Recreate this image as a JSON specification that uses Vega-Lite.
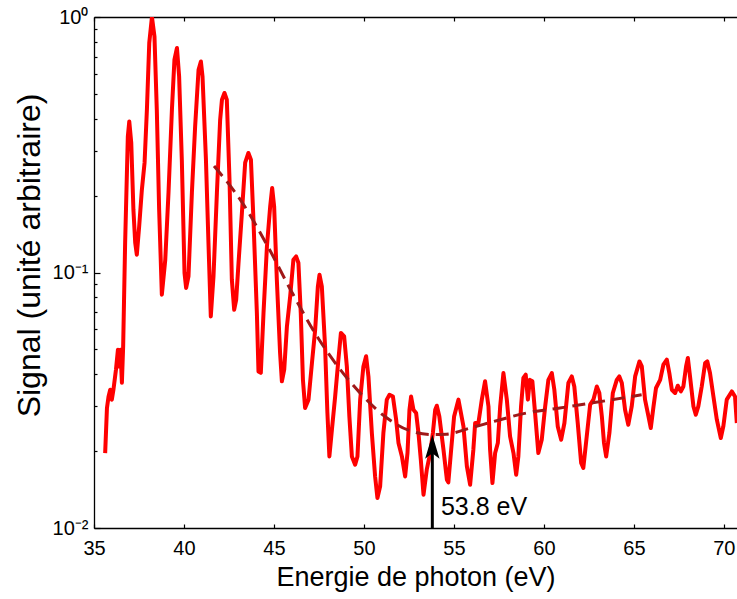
{
  "$schema": "https://vega.github.io/schema/vega-lite/v6.json",
  "width": 643,
  "height": 511,
  "autosize": "none",
  "padding": {"left": 94, "top": 17, "right": 0, "bottom": 71},
  "config": {
    "view": {"stroke": null},
    "font": "Liberation Sans",
    "axis": {"grid": false, "domainColor": "#000000", "tickColor": "#000000", "labelColor": "#000000", "titleColor": "#000000", "titleFontWeight": "normal", "domainWidth": 1.3, "tickWidth": 1.2}
  },
  "datasets": {
    "spectrum": [
      {"energy": 35.62, "signal": 0.01965}, {"energy": 35.72, "signal": 0.02949}, {"energy": 35.81, "signal": 0.03274}, {"energy": 35.90, "signal": 0.03477},
      {"energy": 35.99, "signal": 0.03178}, {"energy": 36.08, "signal": 0.03477}, {"energy": 36.22, "signal": 0.04165}, {"energy": 36.33, "signal": 0.04985},
      {"energy": 36.40, "signal": 0.04291}, {"energy": 36.47, "signal": 0.04985}, {"energy": 36.55, "signal": 0.03704}, {"energy": 36.62, "signal": 0.05137},
      {"energy": 36.73, "signal": 0.1308}, {"energy": 36.88, "signal": 0.3409}, {"energy": 36.96, "signal": 0.3903}, {"energy": 37.07, "signal": 0.3221},
      {"energy": 37.19, "signal": 0.1761}, {"energy": 37.29, "signal": 0.1308}, {"energy": 37.38, "signal": 0.1174}, {"energy": 37.51, "signal": 0.1515},
      {"energy": 37.66, "signal": 0.2109}, {"energy": 37.81, "signal": 0.2690}, {"energy": 37.94, "signal": 0.4337}, {"energy": 38.07, "signal": 0.7911},
      {"energy": 38.22, "signal": 1.0}, {"energy": 38.36, "signal": 0.8396}, {"energy": 38.49, "signal": 0.4337}, {"energy": 38.62, "signal": 0.1761},
      {"energy": 38.77, "signal": 0.0819}, {"energy": 38.96, "signal": 0.1122}, {"energy": 39.14, "signal": 0.2053}, {"energy": 39.33, "signal": 0.4337},
      {"energy": 39.47, "signal": 0.6805}, {"energy": 39.61, "signal": 0.7563}, {"energy": 39.73, "signal": 0.5855}, {"energy": 39.88, "signal": 0.2764},
      {"energy": 40.03, "signal": 0.0995}, {"energy": 40.12, "signal": 0.0870}, {"energy": 40.25, "signal": 0.0965}, {"energy": 40.44, "signal": 0.2053},
      {"energy": 40.62, "signal": 0.3731}, {"energy": 40.81, "signal": 0.6220}, {"energy": 40.94, "signal": 0.6701}, {"energy": 41.03, "signal": 0.5855},
      {"energy": 41.22, "signal": 0.2764}, {"energy": 41.36, "signal": 0.1308}, {"energy": 41.49, "signal": 0.0673}, {"energy": 41.64, "signal": 0.0965},
      {"energy": 41.83, "signal": 0.2053}, {"energy": 42.01, "signal": 0.3963}, {"energy": 42.11, "signal": 0.4746}, {"energy": 42.25, "signal": 0.5042},
      {"energy": 42.38, "signal": 0.4746}, {"energy": 42.53, "signal": 0.2308}, {"energy": 42.66, "signal": 0.0937}, {"energy": 42.79, "signal": 0.0715},
      {"energy": 42.90, "signal": 0.0782}, {"energy": 43.03, "signal": 0.1089}, {"energy": 43.22, "signal": 0.1714}, {"energy": 43.40, "signal": 0.2690},
      {"energy": 43.58, "signal": 0.2936}, {"energy": 43.72, "signal": 0.2764}, {"energy": 43.86, "signal": 0.1609}, {"energy": 44.05, "signal": 0.0696},
      {"energy": 44.14, "signal": 0.0410}, {"energy": 44.27, "signal": 0.0405}, {"energy": 44.42, "signal": 0.0696}, {"energy": 44.61, "signal": 0.1265},
      {"energy": 44.79, "signal": 0.1815}, {"energy": 44.90, "signal": 0.2141}, {"energy": 45.01, "signal": 0.1815}, {"energy": 45.16, "signal": 0.0937},
      {"energy": 45.34, "signal": 0.0484}, {"energy": 45.44, "signal": 0.0375}, {"energy": 45.57, "signal": 0.0417}, {"energy": 45.72, "signal": 0.0615},
      {"energy": 45.90, "signal": 0.0806}, {"energy": 46.08, "signal": 0.1122}, {"energy": 46.23, "signal": 0.1156}, {"energy": 46.36, "signal": 0.1089},
      {"energy": 46.49, "signal": 0.0694}, {"energy": 46.61, "signal": 0.0380}, {"energy": 46.73, "signal": 0.0295}, {"energy": 46.92, "signal": 0.0318},
      {"energy": 47.11, "signal": 0.0442}, {"energy": 47.29, "signal": 0.0597}, {"energy": 47.44, "signal": 0.0882}, {"energy": 47.53, "signal": 0.0980},
      {"energy": 47.66, "signal": 0.0882}, {"energy": 47.84, "signal": 0.0514}, {"energy": 47.97, "signal": 0.0282}, {"energy": 48.08, "signal": 0.01906},
      {"energy": 48.22, "signal": 0.02425}, {"energy": 48.40, "signal": 0.0327}, {"energy": 48.58, "signal": 0.0456}, {"energy": 48.72, "signal": 0.0580},
      {"energy": 48.90, "signal": 0.0562}, {"energy": 49.05, "signal": 0.0429}, {"energy": 49.19, "signal": 0.02734}, {"energy": 49.33, "signal": 0.01906},
      {"energy": 49.51, "signal": 0.01769}, {"energy": 49.64, "signal": 0.01906}, {"energy": 49.79, "signal": 0.0318}, {"energy": 49.97, "signal": 0.0429},
      {"energy": 50.12, "signal": 0.0470}, {"energy": 50.25, "signal": 0.0392}, {"energy": 50.44, "signal": 0.02353}, {"energy": 50.62, "signal": 0.01592},
      {"energy": 50.75, "signal": 0.01311}, {"energy": 50.90, "signal": 0.01455}, {"energy": 51.08, "signal": 0.02353}, {"energy": 51.27, "signal": 0.0318},
      {"energy": 51.42, "signal": 0.03324}, {"energy": 51.61, "signal": 0.0327}, {"energy": 51.79, "signal": 0.02654}, {"energy": 51.92, "signal": 0.02151},
      {"energy": 52.11, "signal": 0.01906}, {"energy": 52.29, "signal": 0.01592}, {"energy": 52.42, "signal": 0.01965}, {"energy": 52.53, "signal": 0.02904},
      {"energy": 52.62, "signal": 0.0327}, {"energy": 52.75, "signal": 0.02904}, {"energy": 52.90, "signal": 0.0282}, {"energy": 53.03, "signal": 0.02353},
      {"energy": 53.16, "signal": 0.01851}, {"energy": 53.31, "signal": 0.0135}, {"energy": 53.49, "signal": 0.01691}, {"energy": 53.68, "signal": 0.01965},
      {"energy": 53.83, "signal": 0.02353}, {"energy": 53.96, "signal": 0.02904}, {"energy": 54.05, "signal": 0.0301}, {"energy": 54.19, "signal": 0.02734},
      {"energy": 54.42, "signal": 0.02025}, {"energy": 54.61, "signal": 0.01545}, {"energy": 54.69, "signal": 0.01508}, {"energy": 54.83, "signal": 0.01965},
      {"energy": 55.01, "signal": 0.02734}, {"energy": 55.25, "signal": 0.0318}, {"energy": 55.53, "signal": 0.02498}, {"energy": 55.72, "signal": 0.01742},
      {"energy": 55.90, "signal": 0.01477}, {"energy": 56.08, "signal": 0.02025}, {"energy": 56.18, "signal": 0.02576}, {"energy": 56.36, "signal": 0.02576},
      {"energy": 56.55, "signal": 0.0318}, {"energy": 56.73, "signal": 0.0375}, {"energy": 56.92, "signal": 0.02991}, {"energy": 57.01, "signal": 0.02025},
      {"energy": 57.14, "signal": 0.0150}, {"energy": 57.29, "signal": 0.01965}, {"energy": 57.44, "signal": 0.02151}, {"energy": 57.57, "signal": 0.02991},
      {"energy": 57.75, "signal": 0.0404}, {"energy": 57.94, "signal": 0.0318}, {"energy": 58.12, "signal": 0.02283}, {"energy": 58.31, "signal": 0.01965},
      {"energy": 58.46, "signal": 0.01616}, {"energy": 58.58, "signal": 0.01906}, {"energy": 58.73, "signal": 0.02991}, {"energy": 58.86, "signal": 0.03865},
      {"energy": 58.99, "signal": 0.0398}, {"energy": 59.11, "signal": 0.0318}, {"energy": 59.22, "signal": 0.0380}, {"energy": 59.36, "signal": 0.0375},
      {"energy": 59.51, "signal": 0.0282}, {"energy": 59.69, "signal": 0.01965}, {"energy": 59.88, "signal": 0.02216}, {"energy": 60.07, "signal": 0.02991},
      {"energy": 60.25, "signal": 0.0380}, {"energy": 60.44, "signal": 0.0404}, {"energy": 60.58, "signal": 0.03477}, {"energy": 60.77, "signal": 0.02498},
      {"energy": 60.96, "signal": 0.02216}, {"energy": 61.14, "signal": 0.02576}, {"energy": 61.36, "signal": 0.03693}, {"energy": 61.55, "signal": 0.0392},
      {"energy": 61.69, "signal": 0.0358}, {"energy": 61.88, "signal": 0.02576}, {"energy": 62.07, "signal": 0.01797}, {"energy": 62.19, "signal": 0.01717},
      {"energy": 62.38, "signal": 0.02283}, {"energy": 62.57, "signal": 0.0304}, {"energy": 62.75, "signal": 0.0318}, {"energy": 62.94, "signal": 0.0358},
      {"energy": 63.08, "signal": 0.03376}, {"energy": 63.22, "signal": 0.02734}, {"energy": 63.34, "signal": 0.02151}, {"energy": 63.46, "signal": 0.01906},
      {"energy": 63.64, "signal": 0.02353}, {"energy": 63.83, "signal": 0.03376}, {"energy": 64.05, "signal": 0.0380}, {"energy": 64.19, "signal": 0.0392},
      {"energy": 64.33, "signal": 0.03693}, {"energy": 64.51, "signal": 0.02904}, {"energy": 64.69, "signal": 0.02536}, {"energy": 64.88, "signal": 0.02991},
      {"energy": 65.07, "signal": 0.0392}, {"energy": 65.31, "signal": 0.04487}, {"energy": 65.44, "signal": 0.0429}, {"energy": 65.62, "signal": 0.0318},
      {"energy": 65.81, "signal": 0.02734}, {"energy": 65.94, "signal": 0.02462}, {"energy": 66.09, "signal": 0.02991}, {"energy": 66.23, "signal": 0.03531},
      {"energy": 66.46, "signal": 0.0380}, {"energy": 66.64, "signal": 0.04356}, {"energy": 66.83, "signal": 0.0456}, {"energy": 66.97, "signal": 0.0404},
      {"energy": 67.11, "signal": 0.03477}, {"energy": 67.29, "signal": 0.03376}, {"energy": 67.44, "signal": 0.03605}, {"energy": 67.61, "signal": 0.03424},
      {"energy": 67.75, "signal": 0.0358}, {"energy": 67.90, "signal": 0.0429}, {"energy": 68.00, "signal": 0.04628}, {"energy": 68.12, "signal": 0.0392},
      {"energy": 68.31, "signal": 0.02991}, {"energy": 68.44, "signal": 0.02776}, {"energy": 68.58, "signal": 0.02991}, {"energy": 68.77, "signal": 0.0358},
      {"energy": 68.96, "signal": 0.0442}, {"energy": 69.08, "signal": 0.04487}, {"energy": 69.23, "signal": 0.0404}, {"energy": 69.42, "signal": 0.0327},
      {"energy": 69.61, "signal": 0.02654}, {"energy": 69.83, "signal": 0.0225}, {"energy": 69.97, "signal": 0.02498}, {"energy": 70.16, "signal": 0.0318},
      {"energy": 70.44, "signal": 0.03424}, {"energy": 70.62, "signal": 0.0327}, {"energy": 70.72, "signal": 0.02576}
    ],
    "envelope": [
      {"energy": 41.67, "signal": 0.261}, {"energy": 43.21, "signal": 0.189}, {"energy": 44.67, "signal": 0.126}, {"energy": 45.98, "signal": 0.0841},
      {"energy": 47.46, "signal": 0.0553}, {"energy": 48.56, "signal": 0.0428}, {"energy": 49.78, "signal": 0.0338}, {"energy": 51.17, "signal": 0.0273},
      {"energy": 52.44, "signal": 0.0242}, {"energy": 53.83, "signal": 0.0232}, {"energy": 54.59, "signal": 0.0233}, {"energy": 55.89, "signal": 0.0246},
      {"energy": 57.37, "signal": 0.0263}, {"energy": 59.04, "signal": 0.0282}, {"energy": 60.89, "signal": 0.0295}, {"energy": 62.72, "signal": 0.0309},
      {"energy": 65.43, "signal": 0.0332}
    ],
    "arrow": [
      {"energy": 53.8, "low": 0.01, "high": 0.0215, "head": 0.0208, "labelx": 54.28, "labely": 0.0121, "label": "53.8 eV"}
    ]
  },
  "layer": [
    {
      "data": {"name": "spectrum"},
      "mark": {"type": "line", "color": "#ff0000", "strokeWidth": 4, "clip": true, "strokeJoin": "round"},
      "encoding": {
        "x": {
          "field": "energy", "type": "quantitative",
          "scale": {"domain": [35, 70.73], "nice": false, "zero": false},
          "axis": {
            "orient": "bottom", "values": [35, 40, 45, 50, 55, 60, 65, 70], "tickSize": -4,
            "labelFontSize": 20, "labelPadding": 14, "labelFlush": false,
            "title": "Energie de photon (eV)", "titleFontSize": 27, "titlePadding": 6
          }
        },
        "y": {
          "field": "signal", "type": "quantitative",
          "scale": {"type": "log", "domain": [0.01, 1], "nice": false},
          "axis": {
            "orient": "left",
            "values": [0.01, 0.02, 0.03, 0.04, 0.05, 0.06, 0.07, 0.08, 0.09, 0.1, 0.2, 0.3, 0.4, 0.5, 0.6, 0.7, 0.8, 0.9, 1],
            "labelExpr": "datum.value == 1 ? '10⁰' : datum.value == 0.1 ? '10⁻¹' : datum.value == 0.01 ? '10⁻²' : ''",
            "tickSize": {"condition": {"test": "datum.value == 1 || datum.value == 0.1 || datum.value == 0.01", "value": -6}, "value": -3},
            "labelFontSize": 20, "labelPadding": 12, "labelFlush": false, "labelOverlap": false,
            "title": "Signal (unité arbitraire)", "titleFontSize": 32, "titlePadding": 6, "titleY": 238
          }
        }
      }
    },
    {
      "data": {"name": "envelope"},
      "mark": {"type": "line", "color": "#a01818", "strokeWidth": 3, "strokeDash": [13, 7], "interpolate": "monotone"},
      "encoding": {
        "x": {
          "field": "energy", "type": "quantitative",
          "axis": {"orient": "top", "values": [35, 40, 45, 50, 55, 60, 65, 70], "tickSize": -4, "labels": false, "title": null}
        },
        "y": {"field": "signal", "type": "quantitative", "axis": null}
      }
    },
    {
      "data": {"name": "arrow"},
      "mark": {"type": "rule", "color": "#000000", "strokeWidth": 3},
      "encoding": {
        "x": {"field": "energy", "type": "quantitative", "axis": null},
        "y": {"field": "low", "type": "quantitative", "axis": null},
        "y2": {"field": "high"}
      }
    },
    {
      "data": {"name": "arrow"},
      "mark": {"type": "point", "shape": "M0,-1L0.6,1L0,0.55L-0.6,1Z", "size": 576, "filled": true, "color": "#000000", "opacity": 1},
      "encoding": {
        "x": {"field": "energy", "type": "quantitative", "axis": null},
        "y": {"field": "head", "type": "quantitative", "axis": null}
      }
    },
    {
      "data": {"name": "arrow"},
      "mark": {"type": "text", "align": "left", "baseline": "middle", "fontSize": 25, "color": "#000000"},
      "encoding": {
        "x": {"field": "labelx", "type": "quantitative", "axis": null},
        "y": {"field": "labely", "type": "quantitative", "axis": null},
        "text": {"field": "label"}
      }
    }
  ],
  "resolve": {"axis": {"x": "independent", "y": "independent"}}
}
